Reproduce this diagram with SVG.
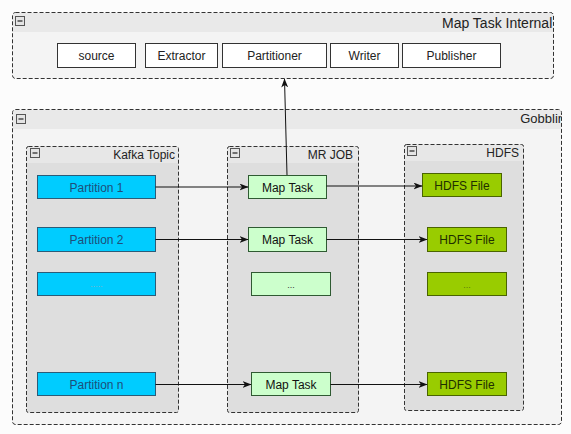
<svg xmlns="http://www.w3.org/2000/svg" width="571" height="434" viewBox="0 0 571 434">
<style>
  text { font-family: "Liberation Sans", Arial, sans-serif; }
  .cont { stroke: #333; stroke-width: 1; stroke-dasharray: 4 2; fill: none; }
  .outerBody { fill: #f4f4f4; }
  .outerHead { fill: #e9e9e9; }
  .innerBody { fill: #dedede; }
  .innerHead { fill: #e7e7e7; }
  .title13 { font-size: 13px; fill: #222; text-anchor: end; }
  .title12 { font-size: 12px; fill: #222; text-anchor: end; }
  .icon { fill: #e4e4e4; stroke: #555; stroke-width: 1; }
  .iconbar { stroke: #222; stroke-width: 1.2; }
  .wbox { fill: #fff; stroke: #333; stroke-width: 1; }
  .pbox { fill: #00ccff; stroke: #2b5c78; stroke-width: 1; }
  .mbox { fill: #ccffcc; stroke: #2f5a32; stroke-width: 1; }
  .hbox { fill: #99cc00; stroke: #4a6400; stroke-width: 1; }
  .lbl { font-size: 12px; text-anchor: middle; }
  .wl { fill: #222; }
  .pl { fill: #1e4f7a; }
  .ml { fill: #111; }
  .hl { fill: #1f2f00; }
  .dots { font-size: 9px; text-anchor: middle; }
  .conn { stroke: #111; stroke-width: 1; fill: none; marker-end: url(#arr); }
</style>
<defs>
  <marker id="arr" markerWidth="9" markerHeight="7" refX="8.5" refY="3.5" orient="auto" markerUnits="userSpaceOnUse">
    <path d="M0,0 L9,3.5 L0,7 L2.5,3.5 z" fill="#111"/>
  </marker>
  <clipPath id="clipTop"><rect x="12.5" y="12.5" width="541" height="66"/></clipPath>
  <clipPath id="clipGob"><rect x="12.5" y="109.5" width="549" height="315"/></clipPath>
</defs>
<rect x="0" y="0" width="571" height="434" fill="#fcfcfc"/>

<g id="map-task-internal">
  <rect class="outerBody" x="12.5" y="12.5" width="541" height="66" rx="3"/>
  <rect class="outerHead" x="13" y="13" width="540" height="19"/>
  <rect class="cont" x="12.5" y="12.5" width="541" height="66" rx="3"/>
  <rect class="icon" x="15.5" y="16.5" width="9" height="9"/>
  <line class="iconbar" x1="17.5" y1="21" x2="22.5" y2="21"/>
  <text x="442" y="27.5" font-size="14" fill="#222" clip-path="url(#clipTop)">Map Task Internal</text>
</g>
<g id="source">
  <rect class="wbox" x="57.5" y="43.5" width="78" height="24"/>
  <text class="lbl wl" x="96.5" y="59.5">source</text>
</g>
<g id="extractor">
  <rect class="wbox" x="145.5" y="43.5" width="72" height="24"/>
  <text class="lbl wl" x="181.5" y="59.5">Extractor</text>
</g>
<g id="partitioner">
  <rect class="wbox" x="222.5" y="43.5" width="104" height="24"/>
  <text class="lbl wl" x="274.5" y="59.5">Partitioner</text>
</g>
<g id="writer">
  <rect class="wbox" x="330.5" y="43.5" width="68" height="24"/>
  <text class="lbl wl" x="364.5" y="59.5">Writer</text>
</g>
<g id="publisher">
  <rect class="wbox" x="402.5" y="43.5" width="98" height="24"/>
  <text class="lbl wl" x="451.5" y="59.5">Publisher</text>
</g>

<g id="gobblin">
  <rect class="outerBody" x="12.5" y="109.5" width="549" height="315" rx="3"/>
  <rect class="outerHead" x="13" y="110" width="548" height="19"/>
  <rect class="cont" x="12.5" y="109.5" width="549" height="315" rx="3"/>
  <rect class="icon" x="16.5" y="114.5" width="9" height="9"/>
  <line class="iconbar" x1="18.5" y1="119" x2="23.5" y2="119"/>
  <text class="title13" x="565" y="123" clip-path="url(#clipGob)">Gobblin</text>
</g>

<g id="kafka-topic">
  <rect class="innerBody" x="26.5" y="146.5" width="152" height="266" rx="2"/>
  <rect class="innerHead" x="27" y="147" width="151" height="16"/>
  <rect class="cont" x="26.5" y="146.5" width="152" height="266" rx="2"/>
  <rect class="icon" x="30.5" y="148.5" width="9" height="9"/>
  <line class="iconbar" x1="32.5" y1="153" x2="37.5" y2="153"/>
  <text class="title12" x="175" y="159">Kafka Topic</text>
</g>
<g id="mr-job">
  <rect class="innerBody" x="227.5" y="146.5" width="131" height="266" rx="2"/>
  <rect class="innerHead" x="228" y="147" width="130" height="16"/>
  <rect class="cont" x="227.5" y="146.5" width="131" height="266" rx="2"/>
  <rect class="icon" x="230.5" y="148.5" width="9" height="9"/>
  <line class="iconbar" x1="232.5" y1="153" x2="237.5" y2="153"/>
  <text class="title12" x="353" y="159">MR JOB</text>
</g>
<g id="hdfs">
  <rect class="innerBody" x="404.5" y="144.5" width="119" height="266" rx="2"/>
  <rect class="innerHead" x="405" y="145" width="118" height="16"/>
  <rect class="cont" x="404.5" y="144.5" width="119" height="266" rx="2"/>
  <rect class="icon" x="407.5" y="146.5" width="9" height="9"/>
  <line class="iconbar" x1="409.5" y1="151" x2="414.5" y2="151"/>
  <text class="title12" x="519" y="157">HDFS</text>
</g>

<g id="partition-1">
  <rect class="pbox" x="37.5" y="175.5" width="118" height="23"/>
  <text class="lbl pl" x="96.5" y="191.5">Partition 1</text>
</g>
<g id="partition-2">
  <rect class="pbox" x="37.5" y="227.5" width="118" height="24"/>
  <text class="lbl pl" x="96.5" y="243.5">Partition 2</text>
</g>
<g id="partition-dots">
  <rect class="pbox" x="37.5" y="272.5" width="118" height="23"/>
  <text class="dots" x="96.5" y="287" fill="#7fb6cc">.....</text>
</g>
<g id="partition-n">
  <rect class="pbox" x="37.5" y="372.5" width="118" height="23"/>
  <text class="lbl pl" x="96.5" y="388.5">Partition n</text>
</g>

<g id="map-task-1">
  <rect class="mbox" x="248.5" y="175.5" width="78" height="23"/>
  <text class="lbl ml" x="287.5" y="191.5">Map Task</text>
</g>
<g id="map-task-2">
  <rect class="mbox" x="248.5" y="227.5" width="78" height="24"/>
  <text class="lbl ml" x="287.5" y="243.5">Map Task</text>
</g>
<g id="map-task-dots">
  <rect class="mbox" x="251.5" y="272.5" width="79" height="23"/>
  <text class="dots" x="291" y="288" fill="#333">...</text>
</g>
<g id="map-task-n">
  <rect class="mbox" x="251.5" y="372.5" width="79" height="23"/>
  <text class="lbl ml" x="291" y="388.5">Map Task</text>
</g>

<g id="hdfs-file-1">
  <rect class="hbox" x="422.5" y="173.5" width="79" height="23"/>
  <text class="lbl hl" x="462" y="189.5">HDFS File</text>
</g>
<g id="hdfs-file-2">
  <rect class="hbox" x="427.5" y="227.5" width="79" height="24"/>
  <text class="lbl hl" x="467" y="243.5">HDFS File</text>
</g>
<g id="hdfs-file-dots">
  <rect class="hbox" x="427.5" y="272.5" width="79" height="23"/>
  <text class="dots" x="467" y="288" fill="#5a7a10">...</text>
</g>
<g id="hdfs-file-n">
  <rect class="hbox" x="427.5" y="372.5" width="79" height="23"/>
  <text class="lbl hl" x="467" y="388.5">HDFS File</text>
</g>

<g id="connectors">
  <line class="conn" x1="155.5" y1="187" x2="248" y2="187"/>
  <line class="conn" x1="155.5" y1="239.5" x2="248" y2="239.5"/>
  <line class="conn" x1="155.5" y1="384.5" x2="251" y2="384.5"/>
  <line class="conn" x1="326.5" y1="186" x2="422" y2="186"/>
  <line class="conn" x1="326.5" y1="239.5" x2="427" y2="239.5"/>
  <line class="conn" x1="330.5" y1="384.5" x2="427" y2="384.5"/>
  <line class="conn" x1="287" y1="175" x2="284.5" y2="79"/>
</g>
</svg>
